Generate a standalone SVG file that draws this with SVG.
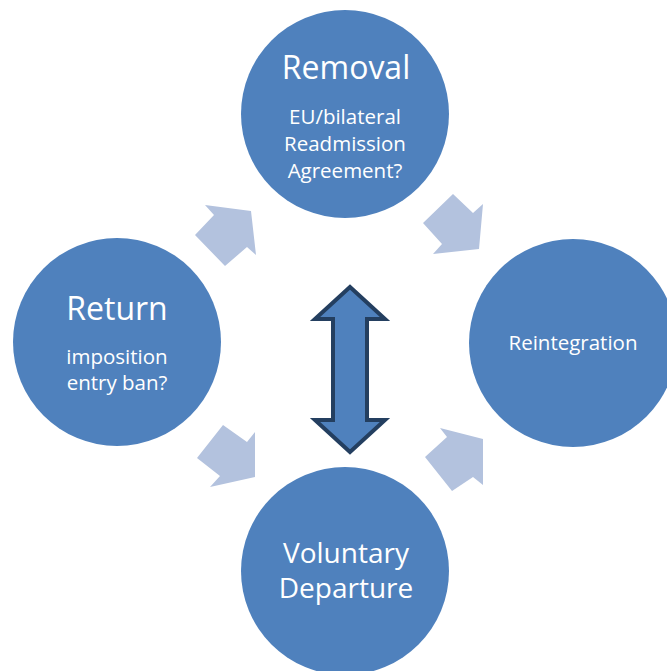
<svg xmlns="http://www.w3.org/2000/svg" width="667" height="671" viewBox="0 0 667 671">
<style>
.c{fill:#4f81bd}
.a{fill:#b3c2de}
.t{fill:#ffffff;font-family:"Open Sans","Liberation Sans",sans-serif;text-anchor:middle}
.big{font-size:32px}
.mid{font-size:28px}
.sm{font-size:20.5px}
</style>
<rect width="667" height="671" fill="#ffffff"/>
<g id="connectors">
<polygon class="a" points="251,211 205,205 214,215 195,235 225,266 247,247 256,255"/>
<polygon class="a" points="479,249 433,254 442,244 423,223 453,194 473,213 483,204"/>
<polygon class="a" points="255,477 210,487 220,476 197,458 223,425 247,442 255,432"/>
<polygon class="a" points="483,439 440,428 447,437 425,457 452,491 473,477 483,485"/>
<polygon fill="#4f81bd" stroke="#243f60" stroke-width="4" stroke-linejoin="miter" points="350,287 385,319 367,319 367,420 385,420 350,452 315,420 333,420 333,319 315,319"/>
</g>
<g id="removal">
<circle class="c" cx="345" cy="114" r="104"/>
<text class="t big" x="346" y="79">Removal</text>
<text class="t sm" x="345" y="124">EU/bilateral</text>
<text class="t sm" x="345" y="151">Readmission</text>
<text class="t sm" x="345" y="178">Agreement?</text>
</g>
<g id="return">
<circle class="c" cx="117" cy="342" r="104"/>
<text class="t big" x="117" y="320">Return</text>
<text class="t sm" x="117" y="364">imposition</text>
<text class="t sm" x="117" y="390">entry ban?</text>
</g>
<g id="reintegration">
<circle class="c" cx="573" cy="343" r="104"/>
<text class="t sm" x="573" y="350">Reintegration</text>
</g>
<g id="voluntary">
<circle class="c" cx="345" cy="571" r="104"/>
<text class="t mid" x="346" y="563">Voluntary</text>
<text class="t mid" x="346" y="598">Departure</text>
</g>
</svg>
